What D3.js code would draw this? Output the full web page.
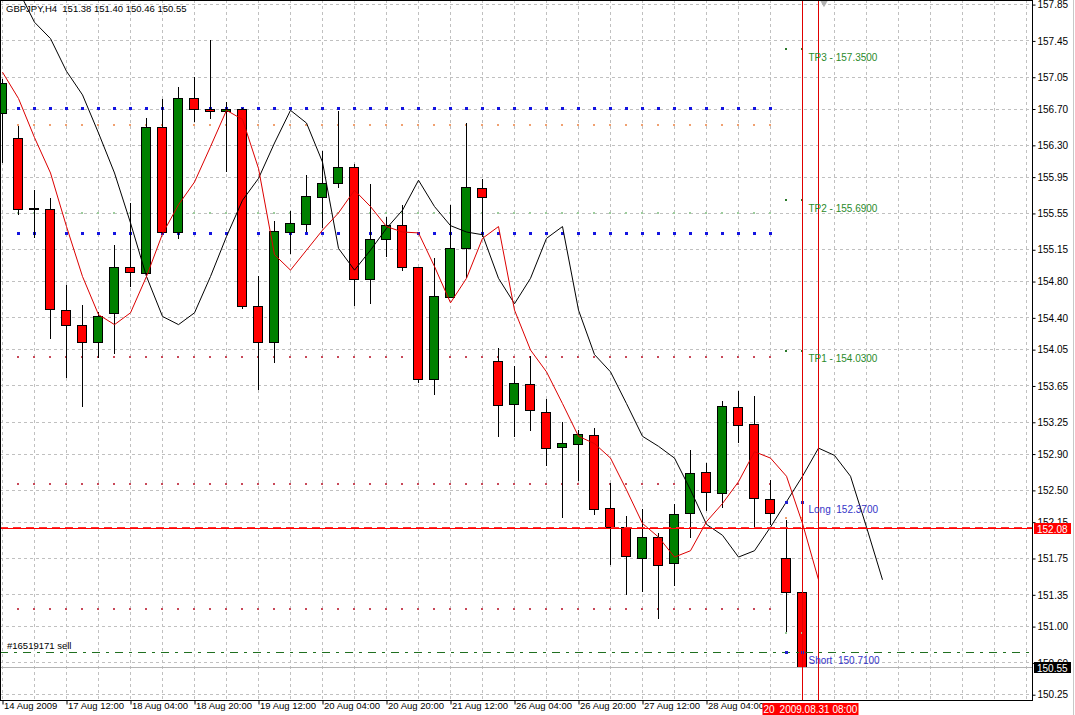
<!DOCTYPE html>
<html>
<head>
<meta charset="utf-8">
<script src="https://cdn.jsdelivr.net/npm/d3@7"></script>
<style>
	body { margin: 0; background: #fff; }
	svg { display: block; font-family: "Liberation Sans", Arial, sans-serif; }
</style>
</head>
<body>
<script>
	// GBPJPY H4 bars, 14 Aug 2009 .. 31 Aug 2009 04:00
	var symbol = "GBPJPY,H4";
	var openP  = [156.65,156.38,155.60,155.59,154.48,154.32,154.13,154.45,154.95,154.89,156.50,155.34,156.82,156.70,156.67,156.70,154.53,154.13,155.34,155.43,155.73,155.88,156.06,154.82,155.26,155.42,154.96,153.72,154.62,155.16,155.83,153.92,153.45,153.67,153.36,152.97,153.01,153.10,152.30,152.09,151.75,151.98,151.69,152.25,152.70,152.47,153.41,153.23,152.40,151.75,151.38];
	var highP  = [157.02,156.51,155.80,155.71,154.76,154.54,154.46,155.20,155.66,156.60,156.80,156.94,157.05,157.45,156.77,156.71,154.86,155.46,155.57,155.97,156.23,156.67,156.09,155.87,155.50,155.64,154.96,155.05,155.64,156.54,155.92,154.06,153.86,153.97,153.50,153.25,153.16,153.18,152.58,152.21,152.29,152.03,152.35,152.94,152.80,153.48,153.59,153.53,152.61,152.17,151.40];
	var lowP   = [156.10,155.53,155.27,154.16,153.73,153.41,153.95,154.00,154.73,154.87,155.32,155.26,156.55,156.58,156.00,154.49,153.60,153.90,155.10,155.34,155.38,155.83,154.52,154.55,155.07,154.91,153.68,153.55,154.61,154.83,155.29,153.08,153.08,153.15,152.76,152.19,152.60,152.22,151.67,151.34,151.38,151.08,151.44,151.97,152.27,152.30,153.02,152.07,152.11,150.92,150.46];
	var closeP = [156.98,155.59,155.59,154.49,154.32,154.13,154.42,154.95,154.90,156.50,155.34,156.82,156.70,156.67,156.70,154.52,154.13,155.35,155.44,155.74,155.88,156.06,154.82,155.26,155.42,154.96,153.72,154.64,155.16,155.84,155.73,153.44,153.68,153.38,152.96,153.02,153.11,152.29,152.09,151.77,151.98,151.67,152.23,152.69,152.48,153.42,153.22,152.41,152.25,151.38,150.55];

	// moving averages (shifted forward, so they run past the last bar)
	var maFast = [157.10,156.81,156.38,155.99,155.40,154.85,154.43,154.32,154.45,154.85,155.32,155.64,155.89,156.28,156.68,156.58,156.04,155.09,154.92,155.14,155.36,155.55,155.80,155.62,155.40,155.34,155.33,154.96,154.56,154.83,155.27,155.40,154.48,154.04,153.80,153.45,153.09,153.01,152.85,152.50,152.13,151.98,151.76,151.83,152.15,152.35,152.59,152.92,152.85,152.65,152.13,151.51];
	var maSlow = [null,158.00,157.65,157.47,157.11,156.85,156.43,155.99,155.44,154.85,154.41,154.32,154.45,154.85,155.29,155.69,155.93,156.32,156.68,156.54,156.11,155.16,154.92,155.14,155.38,155.58,155.91,155.62,155.41,155.34,155.31,154.83,154.55,154.83,155.27,155.40,154.48,153.99,153.80,153.45,153.09,152.98,152.85,152.50,152.12,152.00,151.76,151.83,152.09,152.37,152.65,152.96,152.88,152.65,152.09,151.51];

	// dotted indicator levels
	var blueLevels   = [156.71, 155.33];
	var orangeLevels = [156.52];
	var greenLevels  = [155.55];
	var redLevels    = [153.96, 152.56, 151.19];

	// trade objects
	var tpLevels = [157.35, 155.69, 154.03];
	var tpNames  = ["TP3", "TP2", "TP1"];
	var longLevel = 152.37, shortLevel = 150.71;
	var stopLevels = [152.19, 150.92];
	var orderId = "#16519171", orderType = "sell", orderPrice = 150.71;
	var hLinePrice = 152.08;
	var vLineTimes = ["20", "2009.08.31 08:00"];	// the first box is mostly hidden by the second

	// axes
	var priceTicks = [157.85,157.45,157.05,156.70,156.30,155.95,155.55,155.15,154.80,154.40,154.05,153.65,153.25,152.90,152.50,152.15,151.75,151.35,151.00,150.60,150.25];
	var timeLabels = ["14 Aug 2009","17 Aug 12:00","18 Aug 04:00","18 Aug 20:00","19 Aug 12:00","20 Aug 04:00","20 Aug 20:00","21 Aug 12:00","26 Aug 04:00","26 Aug 20:00","27 Aug 12:00","28 Aug 04:00"];

	var width = 1075, height = 715;
	var plotR = 1032, plotB = 700;
	var barStep = 4;	// a time label every 4 bars

	var x = d3.scaleLinear().domain([0, 64]).range([2, 1026]);
	var y = d3.scaleLinear().domain([150.186, 157.895]).range([plotB, 0]);
	function px(i) { return Math.round(x(i)) + 0.5; }
	function py(v) { return Math.round(y(v)) + 0.5; }

	var svg = d3.select("body").append("svg")
		.attr("width", width)
		.attr("height", height);

	svg.append("defs").append("clipPath").attr("id", "plot")
		.append("rect").attr("x", 1).attr("y", 1).attr("width", plotR - 1).attr("height", plotB - 1);

	var plot = svg.append("g").attr("clip-path", "url(#plot)");

	///////////////////////////
	// grid

	var grid = plot.append("g")
		.attr("stroke", "#c0c0c0")
		.attr("stroke-dasharray", "3,3")
		.attr("shape-rendering", "crispEdges");

	grid.selectAll(".hg").data(priceTicks).enter().append("line")
		.attr("x1", 0).attr("x2", plotR)
		.attr("y1", py).attr("y2", py);

	grid.selectAll(".vg").data(d3.range(0, 65, 2)).enter().append("line")
		.attr("x1", px).attr("x2", px)
		.attr("y1", 0).attr("y2", plotB);

	///////////////////////////
	// dotted levels, one dot per bar

	var dotBars = d3.range(1, 49);
	function dotRow(levels, size, color) {
		levels.forEach(function (lv) {
			plot.append("g").selectAll("rect").data(dotBars).enter().append("rect")
				.attr("x", function (i) { return Math.round(x(i)) - Math.floor(size / 2); })
				.attr("y", Math.round(y(lv)) - Math.floor(size / 2))
				.attr("width", size).attr("height", size)
				.attr("fill", color);
		});
	}
	dotRow(orangeLevels, 2, "#f0a070");
	dotRow(greenLevels, 2, "#9ccc9c");
	dotRow(redLevels, 2, "#c84858");
	dotRow(blueLevels, 3, "#1414e0");

	///////////////////////////
	// candles

	var bars = openP.map(function (o, i) {
		return { i: i, o: o, h: highP[i], l: lowP[i], c: closeP[i] };
	});

	var candles = plot.append("g").attr("shape-rendering", "crispEdges");

	candles.selectAll(".wick").data(bars).enter().append("line")
		.attr("x1", function (d) { return px(d.i); })
		.attr("x2", function (d) { return px(d.i); })
		.attr("y1", function (d) { return Math.round(y(d.h)); })
		.attr("y2", function (d) { return Math.round(y(d.l)); })
		.attr("stroke", "#000");

	candles.selectAll(".body").data(bars).enter().append("path")
		.attr("d", function (d) {
			var top = Math.round(y(Math.max(d.o, d.c))) + 0.5;
			var bot = Math.round(y(Math.min(d.o, d.c))) + 0.5;
			var left = Math.round(x(d.i)) - 4.5;
			return "M" + left + "," + top + "h9V" + bot + "h-9Z";
		})
		.attr("fill", function (d) { return d.c >= d.o ? "#008000" : "#ff0000"; })
		.attr("stroke", "#000");

	///////////////////////////
	// moving averages

	var maLine = d3.line()
		.defined(function (d) { return d != null; })
		.x(function (d, i) { return px(i); })
		.y(function (d) { return y(d); });

	plot.append("path").datum(maSlow)
		.attr("d", maLine).attr("fill", "none").attr("stroke", "#000").attr("stroke-width", 1);

	plot.append("path").datum(maFast)
		.attr("d", maLine).attr("fill", "none").attr("stroke", "#dc0000").attr("stroke-width", 1);

	///////////////////////////
	// horizontal objects

	var last = bars.length - 1;

	plot.append("line")	// current bid
		.attr("x1", 0).attr("x2", plotR)
		.attr("y1", py(closeP[last])).attr("y2", py(closeP[last]))
		.attr("stroke", "#b4b4b4").attr("shape-rendering", "crispEdges");

	plot.append("line")	// open order
		.attr("x1", 0).attr("x2", plotR)
		.attr("y1", py(orderPrice)).attr("y2", py(orderPrice))
		.attr("stroke", "#207020").attr("stroke-dasharray", "8,6,3,6")
		.attr("shape-rendering", "crispEdges");

	plot.append("line")
		.attr("x1", 0).attr("x2", plotR)
		.attr("y1", py(hLinePrice)).attr("y2", py(hLinePrice))
		.attr("stroke", "#ff0000").attr("shape-rendering", "crispEdges");
	plot.append("line")
		.attr("x1", 0).attr("x2", plotR)
		.attr("y1", py(hLinePrice) - 1).attr("y2", py(hLinePrice) - 1)
		.attr("stroke", "#ff3030").attr("stroke-dasharray", "8,5")
		.attr("shape-rendering", "crispEdges");

	// trade marks on the two last bars
	var markBars = [last - 1, last];
	function markRow(level, w, h, color) {
		plot.append("g").selectAll("rect").data(markBars).enter().append("rect")
			.attr("x", function (i) { return Math.round(x(i)) - Math.floor(w / 2); })
			.attr("y", Math.round(y(level)) - Math.floor(h / 2))
			.attr("width", w).attr("height", h)
			.attr("fill", color);
	}
	tpLevels.forEach(function (lv) { markRow(lv, 2, 2, "#2a7a2a"); });
	markRow(longLevel, 3, 3, "#2020d0");
	markRow(shortLevel, 3, 3, "#2020d0");
	markRow(stopLevels[0], 2, 2, "#f0a070");
	markRow(stopLevels[1], 2, 2, "#9ccc9c");

	// vertical lines
	plot.selectAll(".vl").data([last, last + 1]).enter().append("line")
		.attr("x1", px).attr("x2", px)
		.attr("y1", 0).attr("y2", plotB)
		.attr("stroke", "#e00000").attr("shape-rendering", "crispEdges");

	plot.append("path")	// small marker at the top of the chart
		.attr("d", d3.symbol().type(d3.symbolDiamond).size(60))
		.attr("transform", "translate(" + x(last + 1.375) + ",0)")
		.attr("fill", "#b0b0b0");

	///////////////////////////
	// labels

	var labelX = px(last) + 6;

	plot.selectAll(".tp").data(tpLevels).enter().append("text")
		.attr("x", labelX)
		.attr("y", function (d) { return y(d) + 11.5; })
		.attr("font-size", "10px").attr("fill", "#2a8a2a")
		.text(function (d, i) { return tpNames[i] + " - " + d.toFixed(4); });

	plot.append("text")
		.attr("x", labelX).attr("y", y(longLevel) + 11.5)
		.attr("font-size", "10px").attr("fill", "#3434c8")
		.style("white-space", "pre")
		.text("Long  " + longLevel.toFixed(4));

	plot.append("text")
		.attr("x", labelX).attr("y", y(shortLevel) + 11.5)
		.attr("font-size", "10px").attr("fill", "#3434c8")
		.style("white-space", "pre")
		.text("Short  " + shortLevel.toFixed(4));

	plot.append("text")
		.attr("x", 7).attr("y", y(orderPrice) - 3)
		.attr("font-size", "9.5px").attr("fill", "#000")
		.text(orderId + " " + orderType);

	svg.append("text")
		.attr("x", 6).attr("y", 12)
		.attr("font-size", "9.5px").attr("fill", "#000")
		.style("white-space", "pre")
		.text(symbol + "  " + [openP[last], highP[last], lowP[last], closeP[last]].map(function (v) { return v.toFixed(2); }).join(" "));

	///////////////////////////
	// frame and axes

	svg.append("rect")
		.attr("x", 0.5).attr("y", 0.5)
		.attr("width", plotR).attr("height", plotB)
		.attr("fill", "none").attr("stroke", "#000")
		.attr("shape-rendering", "crispEdges");

	svg.append("line")
		.attr("x1", 1073.5).attr("x2", 1073.5).attr("y1", 0).attr("y2", height)
		.attr("stroke", "#c8c8c8");

	var yAxis = d3.axisRight(y)
		.tickValues(priceTicks)
		.tickSize(3)
		.tickFormat(d3.format(".2f"));

	var gy = svg.append("g")
		.attr("transform", "translate(" + (plotR + 0.5) + ",0.5)")
		.call(yAxis);
	gy.select(".domain").remove();
	gy.selectAll("text").attr("font-size", "10px").attr("font-family", null).attr("fill", "#000").attr("x", 5);

	var xAxis = d3.axisBottom(x)
		.tickValues(d3.range(0, timeLabels.length * barStep, barStep))
		.tickSize(4)
		.tickFormat(function (d) { return timeLabels[d / barStep]; });

	var gx = svg.append("g")
		.attr("transform", "translate(0.5," + (plotB + 0.5) + ")")
		.call(xAxis);
	gx.select(".domain").remove();
	gx.selectAll("line").attr("transform", function (d) { return "translate(" + (px(d) - 0.5 - x(d)) + ",0)"; });
	gx.selectAll("text")
		.attr("font-size", "9.5px").attr("font-family", null).attr("fill", "#000")
		.attr("text-anchor", "start").attr("x", 1).attr("y", 2);

	// price boxes on the scale
	function priceBox(v, color) {
		var g = svg.append("g").attr("transform", "translate(" + (plotR + 2) + "," + Math.round(y(v)) + ")");
		g.append("rect").attr("x", 0).attr("y", -5).attr("width", 37).attr("height", 11).attr("fill", color);
		g.append("text").attr("x", 3).attr("y", 4.5).attr("font-size", "10px").attr("fill", "#fff").text(v.toFixed(2));
	}
	priceBox(hLinePrice, "#ff0000");
	priceBox(closeP[last], "#000");

	// time boxes of the two vertical lines
	vLineTimes.forEach(function (t, k) {
		var cx = px(last + k);
		var g = svg.append("g").attr("transform", "translate(" + cx + "," + (plotB + 1) + ")");
		g.append("rect").attr("x", -40).attr("y", 2).attr("width", 80).attr("height", 12).attr("fill", "#ff0000");
		g.append("text").attr("x", k ? 0 : -39).attr("y", 11.5).attr("text-anchor", k ? "middle" : "start")
			.attr("font-size", "10px").attr("fill", "#fff").text(t);
	});
</script>
</body>
</html>
